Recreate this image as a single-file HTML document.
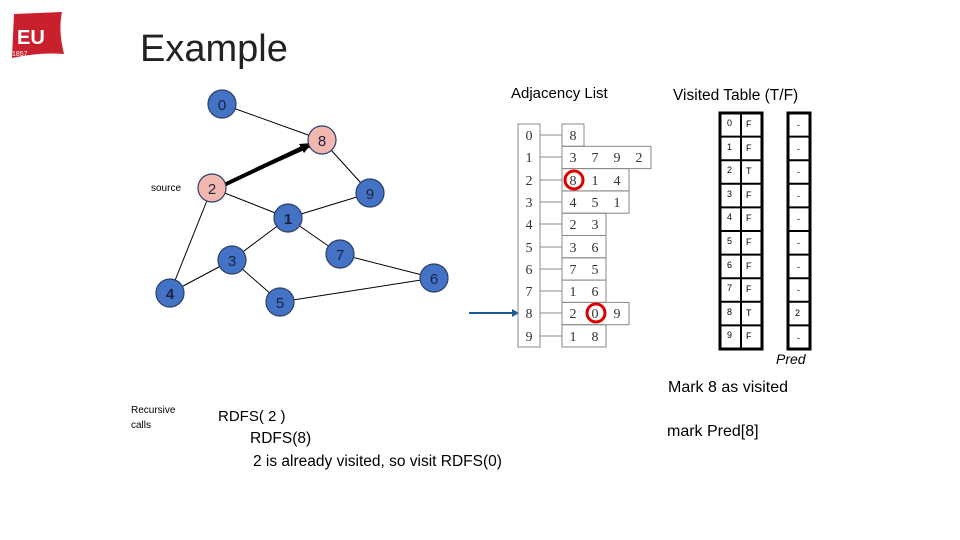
<!DOCTYPE html>
<html><head><meta charset="utf-8"><style>
html,body{margin:0;padding:0;background:#fff}
svg{display:block}
</style></head><body>
<svg width="960" height="540" viewBox="0 0 960 540" xmlns="http://www.w3.org/2000/svg" font-family="Liberation Sans, sans-serif">
<path d="M14 14 L62 12 Q58 30 64 54 Q40 52 12 58 Z" fill="#c8202c"/>
<text x="17" y="44" font-size="20" font-weight="bold" fill="#fff">EU</text>
<text x="12" y="56" font-size="7" fill="#fff">1857</text>
<text x="140" y="61" font-size="38" fill="#222">Example</text>
<g stroke="#000" stroke-width="1">
<line x1="222" y1="104" x2="322" y2="140"/>
<line x1="322" y1="140" x2="370" y2="193"/>
<line x1="212" y1="188" x2="288" y2="218"/>
<line x1="370" y1="193" x2="288" y2="218"/>
<line x1="212" y1="188" x2="170" y2="293"/>
<line x1="288" y1="218" x2="232" y2="260"/>
<line x1="288" y1="218" x2="340" y2="254"/>
<line x1="232" y1="260" x2="170" y2="293"/>
<line x1="232" y1="260" x2="280" y2="302"/>
<line x1="340" y1="254" x2="434" y2="278"/>
<line x1="434" y1="278" x2="280" y2="302"/>
<line x1="214" y1="190" x2="312" y2="146"/>
</g>
<line x1="224" y1="185" x2="302" y2="148" stroke="#000" stroke-width="4"/>
<polygon points="312,143 299,144 304,153" fill="#000"/>
<g stroke="#2a3f6a" stroke-width="1.2">
<circle cx="222" cy="104" r="14" fill="#4472c4"/>
<circle cx="322" cy="140" r="14" fill="#f2b8b0"/>
<circle cx="212" cy="188" r="14" fill="#f2b8b0"/>
<circle cx="370" cy="193" r="14" fill="#4472c4"/>
<circle cx="288" cy="218" r="14" fill="#4472c4"/>
<circle cx="232" cy="260" r="14" fill="#4472c4"/>
<circle cx="340" cy="254" r="14" fill="#4472c4"/>
<circle cx="434" cy="278" r="14" fill="#4472c4"/>
<circle cx="170" cy="293" r="14" fill="#4472c4"/>
<circle cx="280" cy="302" r="14" fill="#4472c4"/>
</g>
<g font-size="15" text-anchor="middle" fill="#1a2440">
<text x="222" y="110">0</text><text x="322" y="146">8</text><text x="212" y="194">2</text>
<text x="370" y="199">9</text><text x="288" y="224" font-weight="bold">1</text><text x="232" y="266">3</text>
<text x="340" y="260">7</text><text x="434" y="284">6</text><text x="170" y="299" font-weight="bold">4</text>
<text x="280" y="308">5</text>
</g>
<text x="151" y="191" font-size="10" fill="#000">source</text>
<text x="511" y="98" font-size="15" fill="#000">Adjacency List</text>
<text x="673" y="100" font-size="15.5" fill="#000">Visited Table (T/F)</text>
<line x1="469" y1="313" x2="513" y2="313" stroke="#1f5a96" stroke-width="2"/>
<polygon points="519,313 512,309 512,317" fill="#1f5a96"/>
<g stroke="#888" stroke-width="1" fill="none">
<rect x="518" y="124" width="22" height="223"/>
<line x1="540" y1="135" x2="562" y2="135"/><line x1="540" y1="157" x2="562" y2="157"/>
<line x1="540" y1="180" x2="562" y2="180"/><line x1="540" y1="202" x2="562" y2="202"/>
<line x1="540" y1="224" x2="562" y2="224"/><line x1="540" y1="247" x2="562" y2="247"/>
<line x1="540" y1="269" x2="562" y2="269"/><line x1="540" y1="291" x2="562" y2="291"/>
<line x1="540" y1="313" x2="562" y2="313"/><line x1="540" y1="336" x2="562" y2="336"/>
<rect x="562" y="124" width="22" height="22.3"/>
<rect x="562" y="146.3" width="89" height="22.3"/>
<rect x="562" y="168.6" width="67" height="22.3"/>
<rect x="562" y="190.9" width="67" height="22.3"/>
<rect x="562" y="213.2" width="44" height="22.3"/>
<rect x="562" y="235.5" width="44" height="22.3"/>
<rect x="562" y="257.8" width="44" height="22.3"/>
<rect x="562" y="280.1" width="44" height="22.3"/>
<rect x="562" y="302.4" width="67" height="22.3"/>
<rect x="562" y="324.7" width="44" height="22.3"/>
</g>
<g font-family="Liberation Serif, serif" font-size="14" fill="#333" text-anchor="middle">
<text x="529" y="140">0</text><text x="529" y="162">1</text><text x="529" y="185">2</text><text x="529" y="207">3</text><text x="529" y="229">4</text>
<text x="529" y="252">5</text><text x="529" y="274">6</text><text x="529" y="296">7</text><text x="529" y="318">8</text><text x="529" y="341">9</text>
<text x="573" y="140">8</text>
<text x="573" y="162">3</text><text x="595" y="162">7</text><text x="617" y="162">9</text><text x="639" y="162">2</text>
<text x="573" y="185">8</text><text x="595" y="185">1</text><text x="617" y="185">4</text>
<text x="573" y="207">4</text><text x="595" y="207">5</text><text x="617" y="207">1</text>
<text x="573" y="229">2</text><text x="595" y="229">3</text>
<text x="573" y="252">3</text><text x="595" y="252">6</text>
<text x="573" y="274">7</text><text x="595" y="274">5</text>
<text x="573" y="296">1</text><text x="595" y="296">6</text>
<text x="573" y="318">2</text><text x="595" y="318">0</text><text x="617" y="318">9</text>
<text x="573" y="341">1</text><text x="595" y="341">8</text>
</g>
<circle cx="574" cy="180" r="9" fill="none" stroke="#d00" stroke-width="3"/>
<circle cx="596" cy="313" r="9" fill="none" stroke="#d00" stroke-width="3"/>
<g stroke="#000" stroke-width="3" fill="none">
<rect x="720" y="113" width="42" height="236"/>
<rect x="788" y="113" width="22" height="236"/>
</g>
<g stroke="#000" stroke-width="2">
<line x1="741" y1="113" x2="741" y2="349"/>
<line x1="720" y1="136.6" x2="762" y2="136.6"/><line x1="720" y1="160.2" x2="762" y2="160.2"/>
<line x1="720" y1="183.8" x2="762" y2="183.8"/><line x1="720" y1="207.4" x2="762" y2="207.4"/>
<line x1="720" y1="231" x2="762" y2="231"/><line x1="720" y1="254.6" x2="762" y2="254.6"/>
<line x1="720" y1="278.2" x2="762" y2="278.2"/><line x1="720" y1="301.8" x2="762" y2="301.8"/>
<line x1="720" y1="325.4" x2="762" y2="325.4"/>
<line x1="788" y1="136.6" x2="810" y2="136.6"/><line x1="788" y1="160.2" x2="810" y2="160.2"/>
<line x1="788" y1="183.8" x2="810" y2="183.8"/><line x1="788" y1="207.4" x2="810" y2="207.4"/>
<line x1="788" y1="231" x2="810" y2="231"/><line x1="788" y1="254.6" x2="810" y2="254.6"/>
<line x1="788" y1="278.2" x2="810" y2="278.2"/><line x1="788" y1="301.8" x2="810" y2="301.8"/>
<line x1="788" y1="325.4" x2="810" y2="325.4"/>
</g>
<g font-size="9" fill="#000">
<text x="727" y="126">0</text><text x="746" y="127">F</text><text x="797" y="128">-</text>
<text x="727" y="150">1</text><text x="746" y="151">F</text><text x="797" y="152">-</text>
<text x="727" y="173">2</text><text x="746" y="174">T</text><text x="797" y="175">-</text>
<text x="727" y="197">3</text><text x="746" y="198">F</text><text x="797" y="199">-</text>
<text x="727" y="220">4</text><text x="746" y="221">F</text><text x="797" y="222">-</text>
<text x="727" y="244">5</text><text x="746" y="245">F</text><text x="797" y="246">-</text>
<text x="727" y="268">6</text><text x="746" y="269">F</text><text x="797" y="270">-</text>
<text x="727" y="291">7</text><text x="746" y="292">F</text><text x="797" y="293">-</text>
<text x="727" y="315">8</text><text x="746" y="316">T</text><text x="795" y="316">2</text>
<text x="727" y="338">9</text><text x="746" y="339">F</text><text x="797" y="341">-</text>
</g>
<text x="776" y="364" font-size="14" font-style="italic" fill="#000">Pred</text>
<text x="668" y="392" font-size="16" fill="#000">Mark 8 as visited</text>
<text x="667" y="436" font-size="16" fill="#000">mark Pred[8]</text>
<text x="131" y="413" font-size="10" fill="#000">Recursive</text>
<text x="131" y="428" font-size="10" fill="#000">calls</text>
<text x="218" y="421" font-size="15" fill="#000">RDFS( 2 )</text>
<text x="250" y="443" font-size="15.5" fill="#000">RDFS(8)</text>
<text x="253" y="466" font-size="15.5" fill="#000">2 is already visited, so visit RDFS(0)</text>
</svg>
</body></html>
